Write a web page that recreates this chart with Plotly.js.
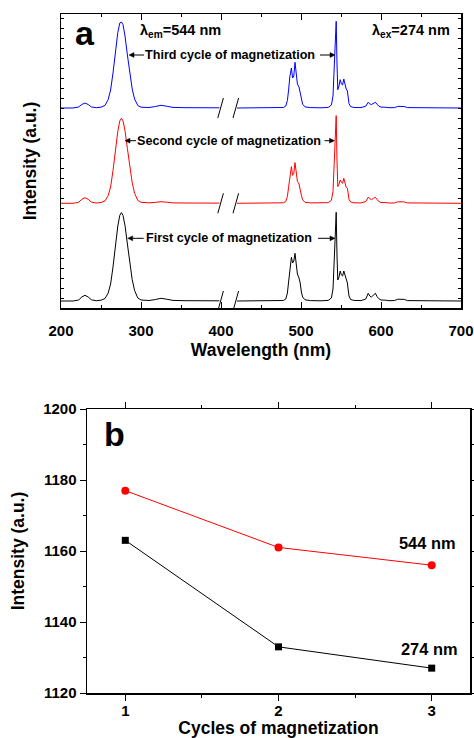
<!DOCTYPE html>
<html><head><meta charset="utf-8">
<script src="https://cdn.plot.ly/plotly-3.0.1.min.js"></script>
<style>html,body{margin:0;padding:0;background:#fff}#chart{width:474px;height:738px}</style>
</head><body><div id="chart"></div>
<script>
// ---- Panel a: emission / excitation spectra (arbitrary units) ----
const wlLeft = [200,215,222,226,230,234,238,244,250,255,259,262,265,268,271,273.5,275.5,277.5,280,283,286,289,292,296,300,310,318,325,332,340,355,375,398];
const wlRight = [420,450,470,478,481,483,484.5,486,488,489.5,491,492.5,494,495.5,497.5,499,500.5,502,505,512,525,534,538,540,541.5,543,544,545,546,547.5,549,550.5,552,553.5,555,556.5,558,559,560,562,566,575,581,584,586,588,590.5,593,595,597,600,603,606,610,617,621,625,629,633,645,665,700];

const firstLeft  = [0,0,1,4,5.7,4,1.2,0.3,0.8,2.5,8,17,34,56,75,85.7,88.4,85.7,75.5,57,37.4,21.3,10.5,3,1,0.5,1.5,2.7,1.8,0.6,0.3,0.4,0.2];
const secondLeft = [0,0,1,4,5.6,4,1.2,0.3,0.8,2.4,7.7,16.3,32.7,53.8,72,82.4,85,82.4,72.6,54.8,36,20.5,10,2.9,1,0.5,0.9,1.6,1.1,0.4,0.3,0.3,0.2];
const thirdLeft  = [0,0,1,3.5,5,3.5,1,0.3,0.8,2.6,8.5,18,35,57,75.5,85,86,83.5,72,53,34,19,9,2.5,0.8,0.5,1.5,2.7,1.8,0.6,0.3,0.4,0.2];

const firstRight  = [0,0,0.2,0.5,2,8,19,33,43.7,38,40,47.7,38,27,23,18,9,4,1.2,0.4,0.2,0.6,3,12,40,75,88.7,45,21,24,30,26,25,30,25,20,18,11,5,1.5,0.6,0.4,2,7.7,5,4,6,7.7,4.5,2.5,1,1.2,0.8,0.3,0.5,1.8,2,1.6,0.4,0.2,0,0];
const secondRight = [0,0,0.2,0.5,1.8,7,16,28,36.7,28,30,40.7,32,22,19.3,15,8,3.5,1,0.4,0.2,0.6,3,12,40,74,87.7,42,16.7,19,23.3,21,20,25,21,16,15,9,4,1.3,0.5,0.4,1.8,6,4.2,3.5,5,6,3.8,2,0.8,1,0.7,0.3,0.4,1.5,1.8,1.4,0.4,0.2,0,0];
const thirdRight  = [0,0,0.2,0.5,2,7.5,18,31,40,30,32,45.7,35,24,21,16,8.5,3.8,1.1,0.4,0.2,0.6,3,12,40,74,86.7,44,18.3,22,28.3,24,23,29,23,19,17,10,4.5,1.4,0.5,0.4,1.8,5.7,4,3.5,5,5.7,3.8,2,0.9,1.1,0.7,0.3,0.4,1.6,1.9,1.5,0.4,0.2,0,0];

const spectraOffsets = [7, 104.7, 200];   // first, second, third cycle baselines
const gapWl = 410;                          // axis break (no data)
const breakX = [396, 415];                  // break-mark positions (nm)

// ---- Panel b: intensity vs cycles ----
const cycles = [1, 2, 3];
const int544 = [1177, 1161, 1156];
const int274 = [1163, 1133, 1127];

const W = 474, H = 738;
const FONT = 'Liberation Sans, Arial, Helvetica, sans-serif';
function px(x){ return x / W; }
function py(y){ return 1 - y / H; }

function spectrum(left, right, off, color){
  return {
    type:'scatter', mode:'lines', xaxis:'x', yaxis:'y',
    x: wlLeft.concat([gapWl], wlRight),
    y: left.map(v=>v+off).concat([null], right.map(v=>v+off)),
    line:{color:color, width:1}, connectgaps:false, hoverinfo:'skip', showlegend:false
  };
}
function breakMarks(off){
  const xs = [], ys = [];
  breakX.forEach(b=>{ xs.push(b, b+7, null); ys.push(off-10, off+10, null); });
  return {type:'scatter', mode:'lines', xaxis:'x', yaxis:'y', x:xs, y:ys,
          line:{color:'black', width:1}, hoverinfo:'skip', showlegend:false, cliponaxis:false};
}

const data = [
  spectrum(firstLeft, firstRight, spectraOffsets[0], 'black'),
  spectrum(secondLeft, secondRight, spectraOffsets[1], '#ff0000'),
  spectrum(thirdLeft, thirdRight, spectraOffsets[2], '#0000ff'),
  breakMarks(spectraOffsets[0]), breakMarks(spectraOffsets[1]), breakMarks(spectraOffsets[2]),
  {type:'scatter', mode:'lines+markers', xaxis:'x2', yaxis:'y2', x:cycles, y:int274,
   line:{color:'black', width:1}, marker:{symbol:'square', size:7, color:'black'}, showlegend:false},
  {type:'scatter', mode:'lines+markers', xaxis:'x2', yaxis:'y2', x:cycles, y:int544,
   line:{color:'#ff0000', width:1}, marker:{symbol:'circle', size:8, color:'#ff0000'}, showlegend:false}
];

const tickFont = {family:FONT, size:15, color:'black', weight:'bold'};
const titleFont = {family:FONT, size:17.5, color:'black', weight:'bold'};
const axBase = {showline:true, linecolor:'black', linewidth:1.5, mirror:'ticks', showgrid:false, zeroline:false,
                tickcolor:'black', tickwidth:1, automargin:false, fixedrange:true};

function txt(text, x, y, size, opts){
  return Object.assign({text:text, xref:'paper', yref:'paper', x:px(x), y:py(y), showarrow:false,
    xanchor:'center', yanchor:'middle', font:{family:FONT, size:size, color:'black', weight:'bold'}}, opts||{});
}
// arrow drawn as shapes: head at (hx,hy) in pixels, tail length L (sign = direction of tail)
function arrowShapes(hx, hy, L){
  const s = Math.sign(L), hl = 5, hw = 2.4;
  return [
    {type:'line', xref:'paper', yref:'paper', x0:px(hx + s*hl), y0:py(hy), x1:px(hx + L), y1:py(hy),
     line:{color:'black', width:1}},
    {type:'path', xref:'paper', yref:'paper',
     path:'M '+px(hx)+' '+py(hy)+' L '+px(hx+s*hl)+' '+py(hy-hw)+' L '+px(hx+s*hl)+' '+py(hy+hw)+' Z',
     fillcolor:'black', line:{color:'black', width:0.5}}
  ];
}

const shapes = [].concat(
  arrowShapes(129, 55, 15), arrowShapes(335, 55, -15),
  arrowShapes(125, 140.7, 11), arrowShapes(334.5, 140.7, -10),
  arrowShapes(127.7, 238.3, 16), arrowShapes(335, 238.3, -17)
);

const layout = {
  width:W, height:H, margin:{l:0, r:0, t:0, b:0}, paper_bgcolor:'white', plot_bgcolor:'white', showlegend:false,
  xaxis: Object.assign({}, axBase, {domain:[px(61), px(461)], anchor:'y', range:[200,700], dtick:100, tick0:200,
    ticks:'inside', ticklen:6, tickfont:tickFont, ticklabelstandoff:8,
    minor:{dtick:50, ticks:'inside', ticklen:3, tickcolor:'black'},
    title:{text:'Wavelength (nm)', font:titleFont, standoff:6}}),
  yaxis: Object.assign({}, axBase, {domain:[py(308), py(14)], anchor:'x', range:[0,294], dtick:10,
    ticks:'inside', ticklen:3, showticklabels:false,
    title:{text:'Intensity (a.u.)', font:titleFont, standoff:18}}),
  xaxis2: Object.assign({}, axBase, {domain:[px(87), px(470)], anchor:'y2', range:[0.75,3.25], tickvals:cycles,
    ticks:'outside', ticklen:6, tickfont:tickFont, ticklabelstandoff:-3,
    minor:{tickvals:[1.5,2.5], ticks:'outside', ticklen:3, tickcolor:'black'},
    title:{text:'Cycles of magnetization', font:titleFont, standoff:4}}),
  yaxis2: Object.assign({}, axBase, {domain:[py(693), py(409)], anchor:'x2', range:[1120,1200], dtick:20, tick0:1120,
    ticks:'outside', ticklen:6, tickfont:tickFont,
    minor:{dtick:10, ticks:'outside', ticklen:3, tickcolor:'black'},
    title:{text:'Intensity (a.u.)', font:titleFont, standoff:14}}),
  shapes: shapes,
  annotations: [
    txt('a', 85, 33, 34),
    txt('λ<sub>em</sub>=544 nm', 138, 31, 14.5, {xanchor:'left'}),
    txt('λ<sub>ex</sub>=274 nm', 370, 31, 14.5, {xanchor:'left'}),
    txt('Third cycle of magnetization', 230, 55, 12.6),
    txt('Second cycle of magnetization', 228.7, 140.7, 12.6),
    txt('First cycle of magnetization', 229, 238.3, 12.6),
    txt('b', 114, 434, 34),
    txt('544 nm', 427.7, 543.3, 16.4),
    txt('274 nm', 429.7, 649.3, 16.4)
  ]
};

Plotly.newPlot('chart', data, layout, {staticPlot:true, displayModeBar:false});
</script>
</body></html>
